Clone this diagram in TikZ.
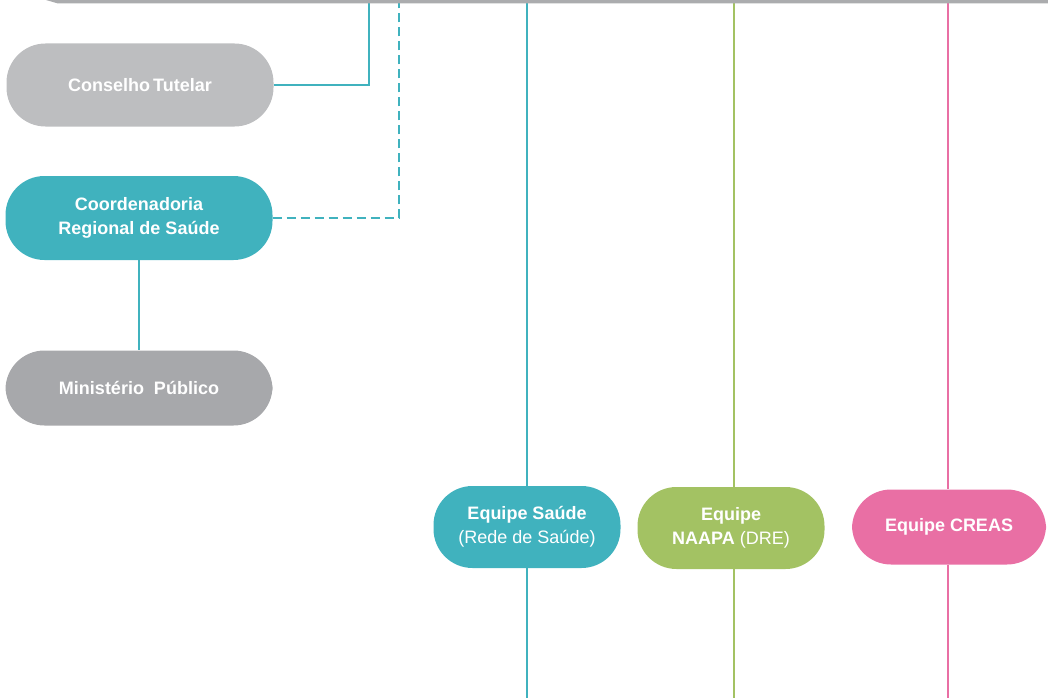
\documentclass[tikz,border=0pt]{standalone}
\usepackage{fontspec}
\setmainfont{Liberation Sans}
\usepackage{xcolor}
\definecolor{saudeteal}{HTML}{40B2BE}
\definecolor{naapagreen}{HTML}{A3C263}
\definecolor{creaspink}{HTML}{E96FA4}
\definecolor{conselhogray}{HTML}{BDBEC0}
\definecolor{mpgray}{HTML}{A7A8AB}
\definecolor{bargray}{HTML}{ABACAE}
\usetikzlibrary{positioning}

\begin{document}
\begin{tikzpicture}[
        x=1pt, y=-1pt,
        box/.style={rectangle, rounded corners=39pt, minimum width=267pt, minimum height=83pt, inner sep=0pt, align=center, text=white, font=\fontsize{18}{24}\selectfont\bfseries},
        team/.style={box, minimum width=187pt, minimum height=82pt},
        link/.style={line width=2.4pt}
    ]
        \useasboundingbox (0,0) rectangle (1048,698);

        \node[box, fill=conselhogray] (conselho) at (140,85) {Conselho\,Tutelar};
        \node[box, fill=saudeteal, minimum height=84pt] (coord) at (139,218) {Coordenadoria\\Regional de Saúde};
        \node[box, fill=mpgray, minimum height=75pt] (mp) at (139,388) {Ministério\ \ Público};

        \node[team, fill=saudeteal] (saude) at (527,527) {Equipe Saúde\\\mdseries(Rede de Saúde)};
        \node[team, fill=naapagreen] (naapa) at (731,528) {Equipe\\NAAPA \mdseries(DRE)};
        \node[team, fill=creaspink, minimum width=194pt, minimum height=75pt] (creas) at (949,527) {Equipe CREAS};

        \coordinate (topA) at (369,0);
        \coordinate (topB) at (399,0);
        \coordinate (topC) at (527,0);
        \coordinate (topD) at (734,0);
        \coordinate (topE) at (948,0);
        \coordinate (botC) at (527,698);
        \coordinate (botD) at (734,698);
        \coordinate (botE) at (948,698);

        \draw[link, saudeteal] (conselho.east) -| (topA);
        \draw[link, saudeteal, dash pattern=on 9pt off 5pt] (coord.east) -| (topB);
        \draw[link, saudeteal] (coord.south) -- (mp.north);

        \draw[link, saudeteal] (topC) -- (saude.north);
        \draw[link, saudeteal] (saude.south) -- (botC);
        \draw[link, naapagreen] (topD) -- (topD |- naapa.north);
        \draw[link, naapagreen] (topD |- naapa.south) -- (botD);
        \draw[link, creaspink] (topE) -- (topE |- creas.north);
        \draw[link, creaspink] (topE |- creas.south) -- (botE);

        % top bar
        \fill[bargray] (46,0) -- (1048,0) -- (1048,3.5) -- (58,3.5) -- cycle;
    \end{tikzpicture}
\end{document}
